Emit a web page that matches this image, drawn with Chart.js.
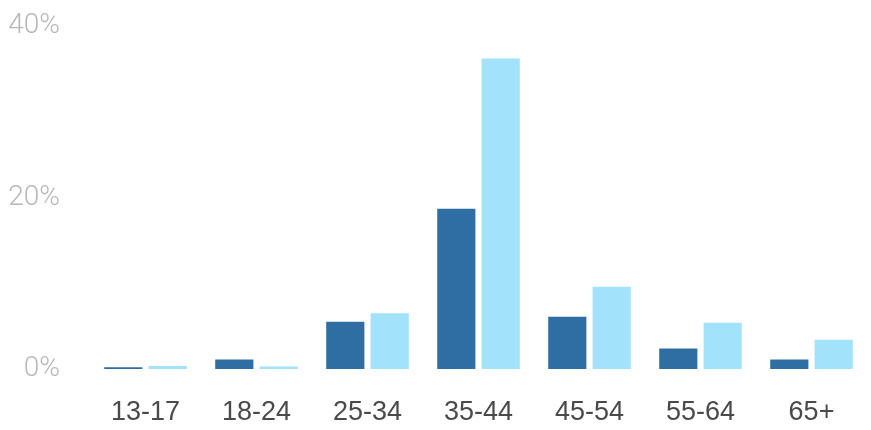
<html>
<head>
<script src="https://cdn.jsdelivr.net/npm/chart.js"></script>
<style>
  body { margin: 0; background: #fff }
  #wrap { position: relative; width: 871px; height: 430px }
</style>
</head>
<body>
<div id="wrap"><canvas id="myChart"></canvas></div>

<script>
// age groups and the two series (percent)
ageGroups = ['13-17', '18-24', '25-34', '35-44', '45-54', '55-64', '65+']
seriesDark = [0.2, 1.1, 5.5, 18.7, 6.1, 2.4, 1.1]
seriesLight = [0.35, 0.3, 6.5, 36.2, 9.6, 5.4, 3.4]
yTicks = [0, 20, 40]

const datainfo = {
  labels: ageGroups,
  datasets: [
    {
      label: 'A',
      backgroundColor: '#2e6ea3',
      data: seriesDark,
      barPercentage: 0.86,
      categoryPercentage: 0.8
    },
    {
      label: 'B',
      backgroundColor: '#a2e2fb',
      data: seriesLight,
      barPercentage: 0.86,
      categoryPercentage: 0.8
    }
  ]
}

const config = {
  type: 'bar',
  data: datainfo,
  options: {
    responsive: true,
    maintainAspectRatio: false,
    animation: false,
    layout: { padding: { top: 26, bottom: 0, right: 4, left: 0 } },
    plugins: { legend: { display: false }, tooltip: { enabled: false } },
    scales: {
      x: {
        grid: { display: false, drawTicks: false },
        border: { display: false },
        afterFit: function (axis) {
          axis.height = 61
          axis.paddingLeft = 0
          axis.paddingRight = 0
        },
        ticks: {
          color: '#4a4a4a',
          padding: 27,
          font: { family: 'Liberation Sans', size: 27 }
        }
      },
      y: {
        min: 0,
        max: 40,
        grid: { display: false, drawTicks: false },
        border: { display: false },
        afterBuildTicks: function (axis) {
          axis.ticks = yTicks.map(v => ({ value: v }))
        },
        afterFit: function (axis) {
          axis.width = 90
          axis.paddingTop = 0
          axis.paddingBottom = 0
        },
        ticks: {
          color: '#b8b8b8',
          padding: 30,
          font: { family: 'Roboto', size: 28, weight: 300 },
          callback: function (v) { return v + '%' }
        }
      }
    }
  }
}

const myChart = new Chart(document.getElementById('myChart'), config)
</script>
</body>
</html>
